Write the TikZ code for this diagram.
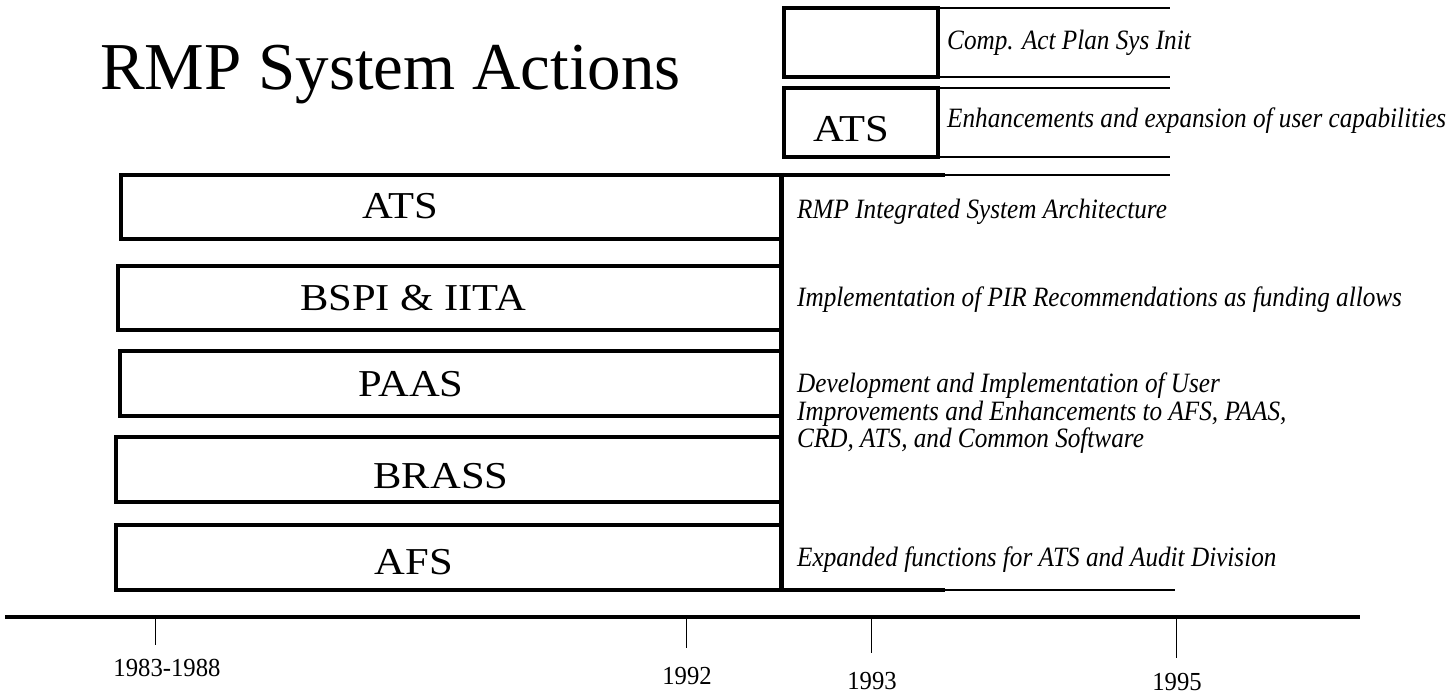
\documentclass[tikz,border=0pt]{standalone}
\usepackage{fontspec}
\setmainfont{Liberation Serif}
\newfontfamily\labelfont[FakeStretch=1.12]{Liberation Serif}
\newfontfamily\notefont[FakeStretch=0.9]{Liberation Serif}
\newfontfamily\yearfont[FakeStretch=0.95]{Liberation Serif}
\begin{document}
\begin{tikzpicture}[x=1pt,y=-1pt,
  barbox/.style={draw,line width=3.5pt,inner sep=0pt},
  boxlabel/.style={font=\labelfont\fontsize{38}{42}\selectfont,anchor=base},
  note/.style={font=\notefont\itshape\fontsize{28}{30}\selectfont,anchor=base west,inner sep=0pt},
  year/.style={font=\yearfont\fontsize{26}{29}\selectfont,anchor=base,inner sep=0pt},
  thick rule/.style={line width=3.5pt},
  thin rule/.style={line width=1.3pt},
  tick/.style={line width=0.9pt}]
\useasboundingbox (0,0) rectangle (1452,695);

% title
\node[anchor=base west,inner sep=0pt,font=\fontsize{67}{70}\selectfont] (title) at (100,90) {RMP System Actions};

% left-hand project bars
\draw[barbox] (121,175) rectangle (781,239);
\draw[barbox] (118,266) rectangle (781,330);
\draw[barbox] (120,351) rectangle (781,416);
\draw[barbox] (116,437) rectangle (781,502);
\draw[barbox] (116,525) rectangle (781,590);
\node[boxlabel] (ats) at (400,219) {ATS};
\node[boxlabel] (bspi) at (413,311) {BSPI \& IITA};
\node[boxlabel] (paas) at (411,396) {PAAS};
\node[boxlabel] (brass) at (441,488) {BRASS};
\node[boxlabel] (afs) at (414,574) {AFS};

% milestone divider
\draw[line width=5pt] (781,173) -- (781,592);
\draw[thick rule] (781,175) -- (945,175);
\draw[thin rule] (945,175) -- (1170,175);
\draw[thick rule] (781,590) -- (945,590);
\draw[thin rule] (945,590) -- (1175,590);

% upper right boxes
\draw[barbox] (784,8) rectangle (938,77);
\draw[barbox] (784,88) rectangle (938,157);
\node[boxlabel] (ats2) at (851,142) {ATS};
\draw[thin rule] (938,8) -- (1170,8);
\draw[thin rule] (938,77) -- (1170,77);
\draw[thin rule] (938,88) -- (1170,88);
\draw[thin rule] (938,157) -- (1170,157);

% descriptions
\node[note] (n1) at (947,50) {Comp. Act Plan Sys Init};
\node[note] (n2) at (947,128) {Enhancements and expansion of user capabilities};
\node[note] (n3) at (797,219) {RMP Integrated System Architecture};
\node[note] (n4) at (797,307) {Implementation of PIR Recommendations as funding allows};
\node[note] (n5) at (797,392) {Development and Implementation of User};
\node[note] (n6) at (797,420) {Improvements and Enhancements to AFS, PAAS,};
\node[note] (n7) at (797,447) {CRD, ATS, and Common Software};
\node[note] (n8) at (797,566) {Expanded functions for ATS and Audit Division};

% time axis
\coordinate (axl) at (5,617);
\coordinate (axr) at (1360,617);
\draw[line width=4pt] (axl) -- (axr);
\coordinate (t1) at (155,617);
\coordinate (t2) at (686,617);
\coordinate (t3) at (871,617);
\coordinate (t4) at (1176,617);
\draw[tick] (t1) -- ++(0,28);
\draw[tick] (t2) -- ++(0,31);
\draw[tick] (t3) -- ++(0,36);
\draw[tick] (t4) -- ++(0,41);
\node[year] (y1) at (167,676) {1983-1988};
\node[year] (y2) at (687,684) {1992};
\node[year] (y3) at (872,689) {1993};
\node[year] (y4) at (1177,690) {1995};
\end{tikzpicture}
\end{document}
